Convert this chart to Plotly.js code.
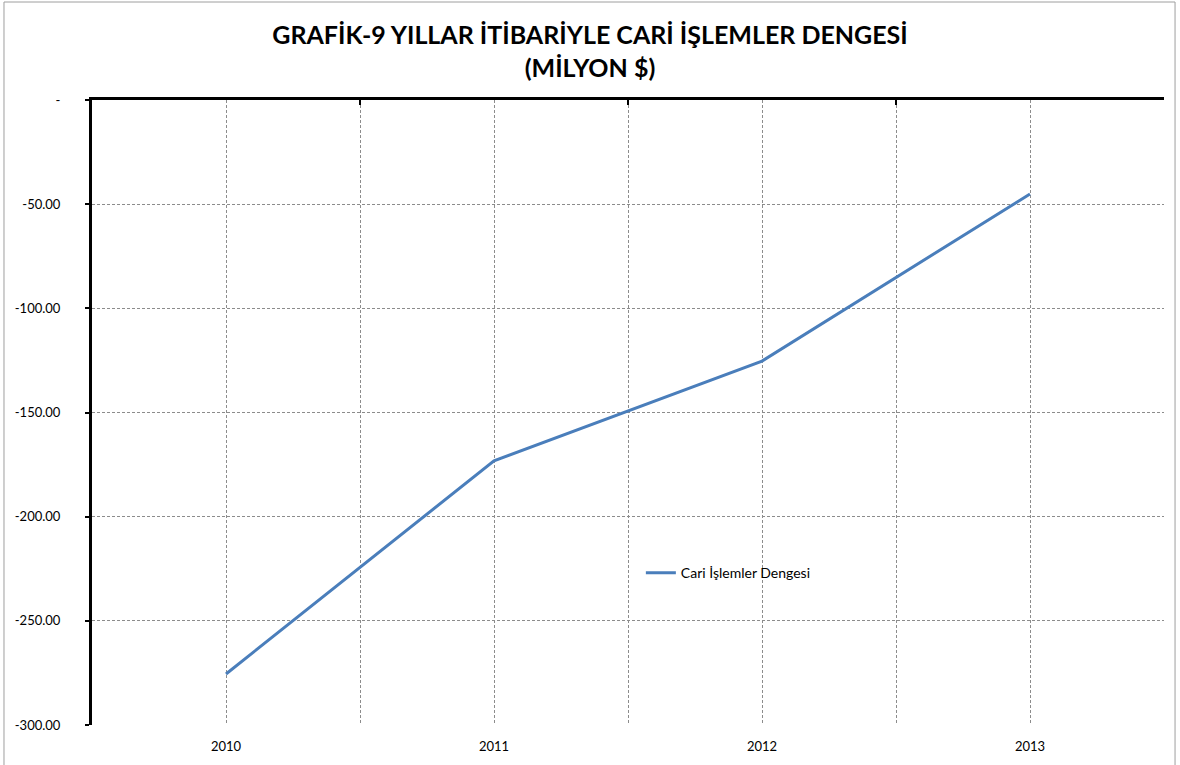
<!DOCTYPE html>
<html><head><meta charset="utf-8">
<script src="https://cdn.plot.ly/plotly-3.0.1.min.js"></script>
<style>html,body{margin:0;padding:0;background:#fff;}#chart{width:1180px;height:765px;}</style>
</head><body><div id="chart"></div>
<script>
const years = [2010, 2011, 2012, 2013];
const cariDenge = [-275.5, -173.2, -125.3, -45.1];
const seriesName = 'Cari İşlemler Dengesi';
const yTickVals = [0, -50, -100, -150, -200, -250, -300];
const yTickText = ['-', '-50.00', '-100.00', '-150.00', '-200.00', '-250.00', '-300.00'];
const titleText = '<b>GRAFİK-9 YILLAR İTİBARİYLE CARİ İŞLEMLER DENGESİ<br>(MİLYON $)</b>';

const FONT = 'Lato, "Open Sans", sans-serif';
const GRID = '#8c8c8c';
const trace = {
  x: years, y: cariDenge, name: seriesName, type: 'scatter', mode: 'lines',
  line: {color: '#4a7ebb', width: 3}
};
const layout = {
  width: 1180, height: 765,
  margin: {l: 92, r: 16, t: 100, b: 40},
  paper_bgcolor: '#fff', plot_bgcolor: '#fff',
  font: {family: FONT, size: 13, color: '#000'},
  title: {text: titleText, x: 0.5, xref: 'container', xanchor: 'center', yref: 'container', y: 0.942, yanchor: 'middle',
          font: {family: FONT, size: 25, color: '#000'}},
  showlegend: true,
  legend: {x: 0.512, y: 0.243, xanchor: 'left', yanchor: 'middle', bgcolor: 'rgba(0,0,0,0)',
           font: {family: FONT, size: 14}, itemwidth: 30},
  xaxis: {
    range: [2009.5, 2013.5], tickmode: 'array', tickvals: years, ticktext: years.map(String),
    showgrid: true, gridcolor: GRID, griddash: '3px,2px', gridwidth: 1,
    minor: {tickmode: 'array', tickvals: [2010.5, 2011.5, 2012.5, 2013.5], showgrid: true, gridcolor: GRID, griddash: '3px,2px', gridwidth: 1},
    showline: false, zeroline: false, ticks: '', ticklabelstandoff: 12,
    tickfont: {family: FONT, size: 13}
  },
  xaxis2: {
    overlaying: 'x', matches: 'x', side: 'top', anchor: 'y', range: [2009.5, 2013.5],
    tickmode: 'array', tickvals: [2009.5, 2010.5, 2011.5, 2012.5, 2013.5], showticklabels: false,
    ticks: 'inside', ticklen: 5, tickwidth: 2, tickcolor: '#000',
    showline: true, linewidth: 3, linecolor: '#000', showgrid: false, zeroline: false
  },
  yaxis: {
    range: [-300, 0], tickmode: 'array', tickvals: yTickVals, ticktext: yTickText,
    showgrid: true, gridcolor: GRID, griddash: '3px,2px', gridwidth: 1,
    showline: true, linewidth: 3, linecolor: '#000', zeroline: false,
    ticks: 'outside', ticklen: 4, tickwidth: 2, tickcolor: '#000', ticklabelstandoff: 22,
    tickfont: {family: FONT, size: 13}
  },
  shapes: [
    {type: 'rect', xref: 'paper', yref: 'paper', x0: -0.0821, x1: 1.0103, y0: -0.2, y1: 1.1568,
     line: {color: '#9e9e9e', width: 1}, fillcolor: 'rgba(0,0,0,0)', layer: 'below'}
  ]
};
const dummy = {x: years, y: cariDenge, xaxis: 'x2', yaxis: 'y', mode: 'lines', line: {width: 0}, showlegend: false, hoverinfo: 'skip', opacity: 0};
Plotly.newPlot('chart', [dummy, trace], layout, {displayModeBar: false, staticPlot: true});
</script></body></html>
